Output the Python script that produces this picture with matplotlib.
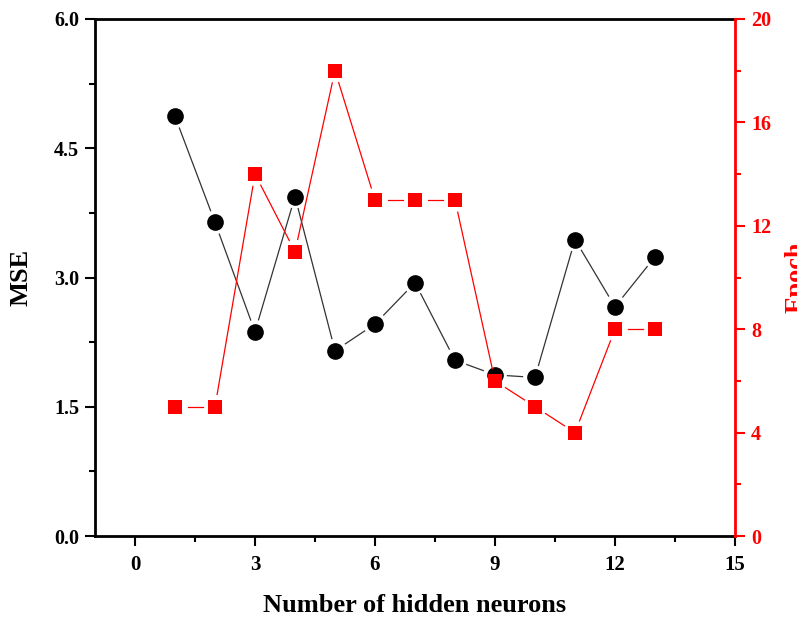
import numpy as np
import matplotlib
matplotlib.use("Agg")
import matplotlib.pyplot as plt
from matplotlib.ticker import MultipleLocator

# ---- data ----
neurons = [1, 2, 3, 4, 5, 6, 7, 8, 9, 10, 11, 12, 13]
mse = [4.87, 3.64, 2.37, 3.94, 2.15, 2.46, 2.94, 2.04, 1.87, 1.84, 3.44, 2.66, 3.24]
epoch = [5, 5, 14, 11, 18, 13, 13, 13, 6, 5, 4, 8, 8]

x_ticks = [0, 3, 6, 9, 12, 15]
mse_ticks = [0.0, 1.5, 3.0, 4.5, 6.0]
epoch_ticks = [0, 4, 8, 12, 16, 20]

plt.rcParams['font.family'] = ['Liberation Serif', 'DejaVu Serif']
plt.rcParams['font.weight'] = 'bold'

DPI = 100
fig = plt.figure(figsize=(7.97, 6.19), dpi=DPI)
fig.patch.set_facecolor('white')
ax = fig.add_axes([95/797, 1 - 536/619, 640/797, 517/619])
ax2 = ax.twinx()

ax.set_xlim(-1, 15)
ax.set_ylim(0, 6.0)
ax2.set_ylim(0, 20)

RED = '#ff0000'


def gapped_line(axis, xs, ys, gap_px, **kw):
    pts = axis.transData.transform(np.column_stack([xs, ys]))
    inv = axis.transData.inverted()
    for p0, p1 in zip(pts[:-1], pts[1:]):
        d = p1 - p0
        L = np.hypot(*d)
        if L <= 2 * gap_px:
            continue
        u = d / L
        a = inv.transform(p0 + u * gap_px)
        b = inv.transform(p1 - u * gap_px)
        axis.plot([a[0], b[0]], [a[1], b[1]], **kw)


gapped_line(ax, neurons, mse, 12.5, color='#333333', lw=0.9, zorder=2)
ax.plot(neurons, mse, linestyle='none', marker='o', ms=12, mew=0,
        color='black', zorder=3)

gapped_line(ax2, neurons, epoch, 12.5, color=RED, lw=0.9, zorder=2)
ax2.plot(neurons, epoch, linestyle='none', marker='s', ms=10.6, mew=0,
         color=RED, zorder=3)

# ticks
ax.set_xticks(x_ticks)
ax.set_xticklabels([str(t) for t in x_ticks])
ax.xaxis.set_minor_locator(MultipleLocator(1.5))
ax.set_yticks(mse_ticks)
ax.set_yticklabels([f"{t:.1f}" for t in mse_ticks])
ax.yaxis.set_minor_locator(MultipleLocator(0.75))
ax2.set_yticks(epoch_ticks)
ax2.set_yticklabels([str(t) for t in epoch_ticks])
ax2.yaxis.set_minor_locator(MultipleLocator(2))

TS = 14.5
ax.tick_params(axis='both', which='major', direction='out', length=7.5,
               width=1.5, labelsize=TS, pad=4)
ax.tick_params(axis='both', which='minor', direction='out', length=4,
               width=1.5)
ax.tick_params(axis='x', which='major', pad=6, labelsize=15)
ax.tick_params(axis='y', which='both', right=False)
ax.tick_params(axis='x', which='both', top=False)
ax2.tick_params(axis='y', which='major', direction='out', length=7.5,
                width=1.5, labelsize=TS, colors=RED, pad=4)
ax2.tick_params(axis='y', which='minor', direction='out', length=4,
                width=1.5, colors=RED)
for lab in ax.get_xticklabels() + ax.get_yticklabels() + ax2.get_yticklabels():
    lab.set_fontweight('bold')

for s in ['left', 'bottom', 'top']:
    ax.spines[s].set_linewidth(2)
    ax.spines[s].set_color('black')
ax2.spines['right'].set_color(RED)
ax2.spines['right'].set_linewidth(2)
ax2.spines['left'].set_visible(False)
ax2.spines['top'].set_visible(False)
ax2.spines['bottom'].set_visible(False)
ax.spines['right'].set_visible(False)

ax.set_xlabel('Number of hidden neurons', fontsize=19, fontweight='bold')
ax.xaxis.set_label_coords(0.5, -0.112)
ax.xaxis.label.set_verticalalignment('top')
ax.set_ylabel('MSE', fontsize=19, fontweight='bold')
ax.yaxis.set_label_coords(-0.097, 0.5)
ax2.set_ylabel('Epoch', fontsize=19, fontweight='bold', color=RED)
ax2.yaxis.set_label_coords(1.078, 0.5)

fig.savefig('out.png', dpi=DPI, facecolor='white')
